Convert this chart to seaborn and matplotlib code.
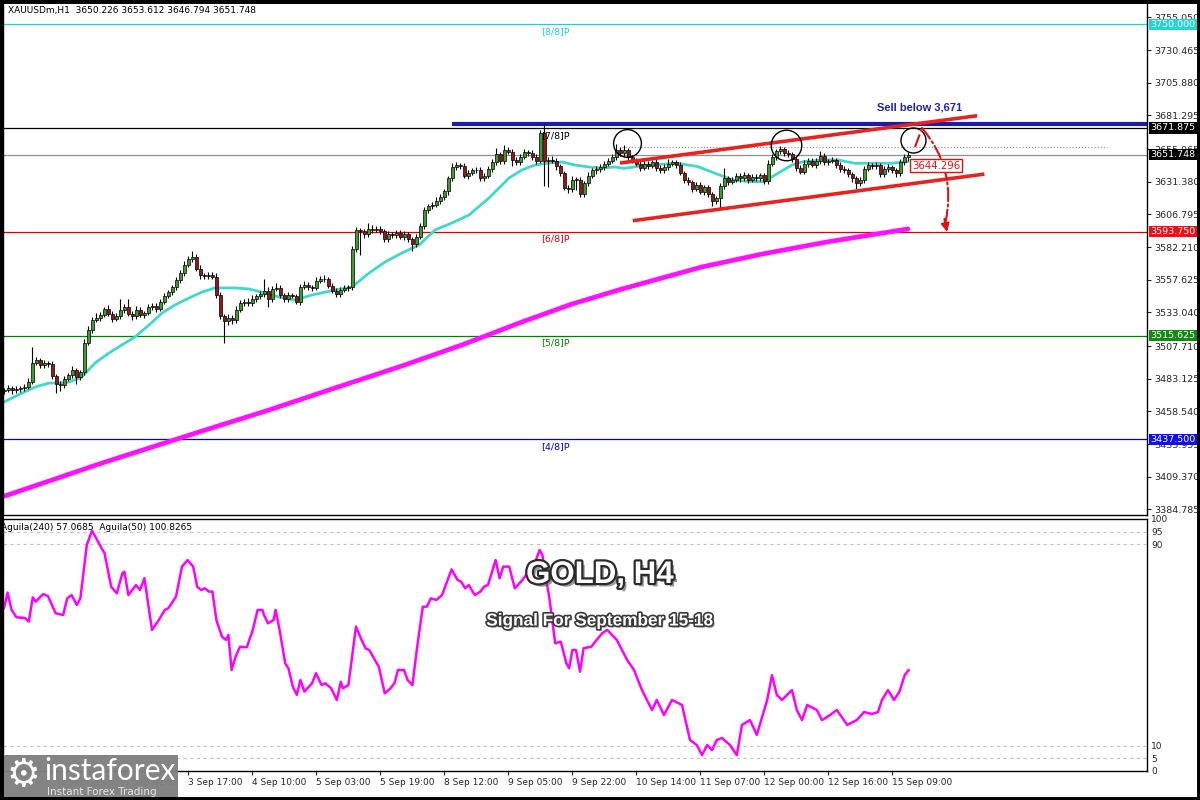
import numpy as np
import pandas as pd
import matplotlib
matplotlib.use("Agg")
import matplotlib.pyplot as plt
import matplotlib.patheffects as pe
from matplotlib.patches import Rectangle
import seaborn as sns

sns.set_style("white")
plt.rcParams['font.family'] = ['DejaVu Sans']

# ---- data (H1 bars, index 0 = first bar on screen) ----
first_open = 3474.0
closes = [
    3475.0, 3476.2, 3474.5, 3475.6, 3476.1, 3477.3, 3481.0, 3495.0, 3497.2, 3493.4,
    3495.1, 3494.0, 3485.2, 3479.3, 3478.1, 3483.0, 3486.2, 3489.4, 3484.1, 3488.3,
    3510.2, 3520.1, 3527.6, 3529.0, 3531.2, 3535.3, 3532.0, 3528.2, 3530.4, 3535.1,
    3537.0, 3532.2, 3530.1, 3535.0, 3531.3, 3532.4, 3537.2, 3538.1, 3536.0, 3541.2,
    3545.1, 3548.3, 3552.0, 3557.2, 3563.1, 3569.0, 3573.2, 3574.8, 3566.1, 3561.0,
    3560.2, 3561.4, 3560.1, 3546.2, 3530.1, 3526.3, 3529.2, 3527.0, 3535.2, 3540.1,
    3541.2, 3540.0, 3543.1, 3545.2, 3547.0, 3549.3, 3543.2, 3551.0, 3551.4, 3546.1,
    3543.2, 3546.0, 3545.3, 3541.1, 3552.2, 3554.0, 3552.1, 3551.3, 3557.0, 3558.2,
    3558.0, 3553.1, 3549.2, 3547.0, 3550.1, 3551.2, 3552.3, 3581.0, 3595.2, 3594.0,
    3592.1, 3596.0, 3595.2, 3596.1, 3594.0, 3588.2, 3592.0, 3591.1, 3593.2, 3590.0,
    3592.1, 3588.0, 3584.2, 3590.1, 3598.0, 3610.2, 3613.0, 3614.1, 3617.2, 3620.0,
    3624.1, 3634.0, 3642.2, 3644.0, 3643.1, 3636.0, 3638.2, 3640.0, 3640.3, 3634.1,
    3636.0, 3641.2, 3646.0, 3652.1, 3647.0, 3655.2, 3654.0, 3648.1, 3646.0, 3650.2,
    3654.0, 3653.1, 3650.0, 3647.2, 3668.0, 3647.1, 3648.0, 3647.2, 3643.0, 3638.1,
    3627.0, 3626.2, 3633.0, 3633.1, 3622.0, 3630.2, 3636.0, 3640.1, 3641.0, 3642.2,
    3645.0, 3647.1, 3650.0, 3655.2, 3653.0, 3655.1, 3650.0, 3647.2, 3645.0, 3642.1,
    3645.0, 3643.2, 3646.0, 3642.1, 3640.0, 3642.2, 3645.0, 3646.1, 3644.0, 3638.2,
    3633.0, 3631.1, 3626.0, 3629.2, 3624.0, 3627.1, 3622.0, 3617.2, 3619.0, 3628.1,
    3634.0, 3631.2, 3633.0, 3636.1, 3634.0, 3636.2, 3633.0, 3635.1, 3634.0, 3636.2,
    3632.0, 3645.1, 3650.0, 3654.2, 3656.0, 3653.1, 3652.0, 3648.2, 3642.0, 3639.1,
    3645.0, 3647.2, 3644.0, 3647.1, 3651.0, 3646.2, 3647.0, 3648.1, 3644.0, 3641.2,
    3640.0, 3637.1, 3634.0, 3630.2, 3633.0, 3641.1, 3644.0, 3643.2, 3644.0, 3637.1,
    3641.0, 3642.2, 3640.0, 3638.1, 3646.0, 3650.2, 3651.748]

upper_wick = [
    1.5, 2.0, 1.2, 1.8, 1.5, 2.2, 3.0, 12.0, 2.5, 1.8,
    2.0, 1.5, 2.2, 1.8, 2.5, 2.0, 1.5, 3.0, 2.2, 1.8,
    2.5, 3.0, 2.0, 3.5, 2.5, 2.0, 3.2, 1.8, 2.5, 8.0,
    2.5, 6.0, 2.0, 3.0, 2.5, 2.0, 2.5, 1.8, 2.2, 2.0,
    2.5, 2.0, 1.8, 2.2, 2.0, 2.5, 2.2, 4.5, 2.0, 2.5,
    1.5, 2.0, 1.8, 2.5, 2.0, 1.5, 3.0, 2.0, 2.5, 2.0,
    1.8, 2.5, 3.0, 2.0, 2.2, 9.0, 3.0, 2.0, 3.5, 2.0,
    1.5, 2.5, 2.0, 1.8, 2.0, 2.5, 2.0, 1.5, 3.0, 2.2,
    3.0, 2.0, 1.8, 2.5, 2.0, 2.2, 1.5, 2.0, 2.5, 1.5,
    2.0, 4.0, 2.5, 2.0, 1.8, 2.2, 2.5, 1.5, 2.0, 1.8,
    2.0, 1.5, 1.8, 2.2, 2.0, 2.5, 2.0, 1.8, 2.5, 2.0,
    2.2, 2.0, 3.5, 2.0, 1.8, 2.5, 2.0, 1.5, 2.2, 2.0,
    1.8, 2.0, 2.5, 5.0, 2.0, 4.0, 2.5, 2.0, 1.8, 2.2,
    2.0, 1.5, 2.5, 2.0, 2.5, 7.0, 2.0, 2.5, 1.8, 2.0,
    1.5, 2.0, 2.5, 2.0, 1.8, 2.0, 2.5, 1.8, 2.0, 2.2,
    2.0, 2.5, 2.0, 5.0, 2.5, 4.0, 2.0, 1.8, 2.2, 2.0,
    2.5, 1.8, 2.0, 2.2, 1.8, 2.5, 3.5, 2.0, 1.8, 2.0,
    1.5, 2.0, 1.8, 2.2, 2.0, 1.8, 2.0, 1.5, 2.0, 2.5,
    8.0, 2.0, 2.2, 1.8, 2.0, 2.5, 1.8, 2.0, 2.2, 2.0,
    1.5, 2.5, 2.2, 2.0, 2.5, 1.8, 2.0, 1.5, 2.0, 1.8,
    2.5, 2.0, 1.8, 2.2, 3.5, 2.0, 1.8, 2.0, 1.5, 2.0,
    1.8, 2.0, 1.5, 2.0, 2.2, 2.5, 2.0, 1.8, 2.0, 1.5,
    2.0, 2.2, 1.8, 2.0, 2.5, 2.2, 1.9]

lower_wick = [
    2.0, 1.5, 2.5, 1.8, 2.2, 2.0, 1.5, 2.0, 1.8, 2.5,
    2.0, 2.2, 2.5, 7.0, 4.0, 2.0, 1.8, 2.5, 5.0, 2.2,
    2.0, 1.8, 2.5, 2.0, 2.2, 1.5, 2.0, 2.5, 1.8, 2.0,
    2.2, 2.0, 2.5, 1.8, 2.0, 2.2, 1.5, 2.0, 2.5, 1.8,
    2.0, 1.5, 2.2, 1.8, 2.0, 2.5, 1.8, 2.0, 2.2, 2.5,
    2.0, 1.8, 2.2, 2.5, 2.0, 16.0, 2.5, 3.0, 2.0, 1.8,
    2.2, 2.0, 1.8, 2.5, 2.0, 2.2, 6.0, 2.0, 1.8, 2.5,
    2.0, 2.2, 1.5, 2.0, 2.5, 1.8, 2.0, 2.2, 1.5, 2.0,
    2.2, 2.0, 1.8, 2.5, 2.0, 1.5, 2.2, 2.0, 2.5, 18.0,
    3.0, 2.0, 2.5, 1.8, 2.0, 2.5, 2.0, 1.8, 2.2, 2.0,
    2.5, 2.0, 5.0, 2.2, 2.0, 1.8, 2.5, 2.0, 1.5, 2.2,
    2.0, 2.5, 2.0, 1.8, 2.2, 2.0, 2.5, 1.8, 2.0, 2.2,
    2.0, 1.8, 2.5, 2.0, 2.2, 2.0, 1.8, 5.0, 2.2, 2.0,
    1.8, 2.0, 2.2, 2.5, 2.0, 19.0, 20.0, 2.0, 2.5, 2.2,
    2.0, 3.0, 2.5, 8.0, 2.0, 2.2, 1.8, 2.0, 2.5, 2.0,
    2.2, 2.0, 1.8, 2.0, 2.5, 2.0, 2.2, 1.8, 2.0, 2.5,
    2.0, 2.2, 1.8, 2.5, 2.0, 2.2, 1.8, 2.0, 2.5, 2.0,
    2.2, 2.0, 2.5, 1.8, 2.0, 2.2, 2.0, 4.0, 2.5, 7.0,
    2.0, 2.2, 1.8, 2.0, 2.5, 2.0, 2.2, 1.8, 2.0, 2.2,
    2.5, 2.0, 1.8, 2.2, 2.0, 2.5, 2.0, 1.8, 2.2, 2.0,
    2.0, 2.2, 1.8, 2.0, 2.5, 2.0, 2.2, 1.8, 2.0, 2.5,
    2.0, 2.2, 2.5, 4.0, 2.0, 2.2, 1.8, 2.0, 2.5, 2.0,
    2.2, 2.0, 1.8, 3.0, 2.0, 2.2, 3.4]

# moving averages (bar index, price)
ma_fast = [(-0.5, 3464.9), (4.5, 3472.4), (7.75, 3476.9), (11.25, 3479.9), (13.75, 3479.9),
           (16.25, 3480.7), (19.5, 3484.5), (22.75, 3495.0), (26.25, 3502.5), (29.5, 3508.6),
           (32.75, 3514.6), (36.25, 3523.6), (39.5, 3532.6), (42.75, 3538.7), (46.25, 3543.9),
           (49.5, 3548.4), (52.75, 3551.5), (57.75, 3551.5), (61.25, 3550.7), (65.25, 3547.7),
           (68.75, 3544.7), (72.75, 3542.4), (77, 3546.2), (82.75, 3549.9), (87, 3552.2),
           (91.25, 3562.7), (95.25, 3571.0), (99.5, 3577.8), (103.75, 3583.8), (107.75, 3595.1),
           (112, 3600.4), (116.25, 3606.4), (121.25, 3619.2), (126.25, 3634.2), (129.5, 3640.3),
           (132.75, 3644.0), (136.25, 3645.5), (139.5, 3646.3), (142.75, 3644.0), (146.25, 3642.5),
           (149.5, 3641.8), (152.75, 3642.5), (155, 3641.5), (161, 3644.0), (168.25, 3645.3),
           (173.5, 3642.8), (177.75, 3637.8), (182.25, 3632.7), (186.5, 3631.5), (190, 3631.5),
           (192.75, 3636.5), (197, 3644.0), (199.75, 3646.5), (205, 3647.8), (208.5, 3647.8),
           (212.75, 3645.3), (217.25, 3645.3), (221.75, 3645.3), (226, 3646.5)]

ma_slow = [(-0.5, 3394.2), (24.5, 3419.7), (49.5, 3443.8), (66.25, 3459.6), (82.75, 3476.2),
           (99.5, 3492.8), (114.5, 3508.6), (129.5, 3525.9), (142, 3539.4), (154.5, 3550.7),
           (174.5, 3567.3), (189.5, 3577.0), (205.75, 3586.1), (226, 3595.9)]

aguila = [(0, 64.6), (0.9, 70.8), (1.9, 63.9), (3.1, 61.0), (5.25, 60.7), (6.2, 59.3), (7.2, 68.9),
          (7.9, 67.2), (9.8, 70.2), (11, 69.4), (12.9, 62.6), (14.8, 61.9), (15.8, 68.5), (16.9, 69.8),
          (18.2, 65.9), (19.1, 68.5), (20.7, 89.7), (22, 95.4), (24.4, 88.4), (25.1, 86.6), (26.8, 73.1),
          (28.2, 70.5), (29.6, 78.5), (30.1, 79.1), (31.1, 69.8), (33, 73.8), (34, 71.8), (35.1, 76.5),
          (37, 56.0), (38.7, 59.9), (40.2, 63.9), (41.1, 64.6), (43, 69.2), (44.5, 81.1), (45.9, 83.7),
          (47.3, 81.1), (48.3, 73.1), (49.3, 71.8), (50.2, 72.5), (51.2, 71.2), (52.1, 71.2), (53.1, 59.9),
          (54.5, 53.3), (55.5, 52.0), (56.1, 54.0), (56.9, 40.1), (57.9, 45.4), (59, 49.3), (60.7, 49.1),
          (62.2, 56.0), (63.4, 63.9), (64.6, 63.9), (65, 61.9), (66, 58.6), (67.4, 59.9), (67.9, 63.9),
          (68.9, 56.0), (70.3, 42.7), (71.1, 40.8), (72.2, 33.5), (73.2, 30.2), (74.1, 36.1), (75.1, 31.5),
          (77, 34.8), (78, 38.8), (79.4, 34.1), (80.3, 34.8), (81.3, 33.5), (81.8, 32.8), (83.2, 28.2),
          (84.2, 35.4), (84.7, 32.8), (86.1, 34.1), (88, 57.3), (89.4, 52.0), (90.4, 48.7), (91.3, 48.0),
          (93.7, 41.4), (95.2, 30.8), (96.6, 32.8), (97.6, 34.8), (98.5, 40.1), (100, 40.1), (100.9, 36.1),
          (102.1, 34.1), (103.3, 49.3), (104.7, 65.2), (105.7, 65.2), (106.7, 68.5), (108.1, 67.9),
          (109.5, 69.8), (111.9, 80.0), (113.4, 75.8), (114.3, 75.1), (115.3, 72.5), (116.2, 73.8),
          (117.7, 69.8), (119.1, 71.2), (120, 73.1), (121, 73.8), (122.9, 83.7), (123.9, 76.5),
          (124.8, 81.1), (126.3, 81.1), (127.7, 72.5), (129.6, 75.8), (131.5, 79.8), (133, 83.7),
          (133.9, 87.7), (134.6, 85.7), (135.4, 77.1), (136.3, 69.2), (137.8, 50.7), (139.2, 51.3),
          (140.6, 42.7), (141.3, 40.8), (142.1, 48.0), (143, 48.0), (144, 39.4), (144.9, 48.7),
          (146.8, 49.3), (147.8, 51.3), (149.5, 54.6), (150.8, 56.0), (153.2, 52.0), (155.8, 44.0),
          (157.5, 40.1), (159.5, 32.1), (162, 24.2), (163.2, 28.2), (165, 22.2), (167, 28.2),
          (169.5, 26.2), (171.5, 12.3), (173.2, 10.3), (174.5, 6.3), (175.8, 10.3), (177, 8.3),
          (178.2, 12.3), (179.5, 13.1), (181.5, 10.3), (183.2, 6.3), (184.5, 18.3), (186.5, 20.2),
          (188.2, 14.3), (190.8, 28.2), (192, 38.0), (193.2, 30.2), (194.5, 28.2), (197, 32.1),
          (198.2, 24.2), (199.5, 20.2), (200.8, 26.2), (203.2, 24.2), (204.5, 20.2), (206.5, 22.2),
          (208.2, 24.2), (210.8, 18.3), (213.2, 20.2), (215, 23.4), (217, 22.6), (218.5, 23.4),
          (219.5, 28.2), (221, 32.1), (222.5, 28.2), (223.8, 31.3), (225.2, 38.1), (226.2, 40.1)]

price_ticks = [3755.050, 3730.465, 3705.880, 3681.295, 3655.965, 3631.380, 3606.795, 3582.210,
               3557.625, 3533.040, 3507.710, 3483.125, 3458.540, 3433.955, 3409.370, 3384.785]

level_prices = [3750.000, 3671.875, 3593.750, 3515.625, 3437.500]
level_names = ["[8/8]P", "[7/8]P", "[6/8]P", "[5/8]P", "[4/8]P"]
level_colors = ["#1fd0d0", "#000000", "#e00000", "#008000", "#0000e0"]

last_price = 3651.748
sell_level = 3674.9
resistance = 3657.8
target_label = 3644.296

time_idx = [14, 30, 46, 62, 78, 94, 110, 126, 142, 158, 174, 190, 206, 222]
time_labels = ["2 Sep 08:00", "3 Sep 01:00", "3 Sep 17:00", "4 Sep 10:00", "5 Sep 03:00",
               "5 Sep 19:00", "8 Sep 12:00", "9 Sep 05:00", "9 Sep 22:00", "10 Sep 14:00",
               "11 Sep 07:00", "12 Sep 00:00", "12 Sep 16:00", "15 Sep 09:00"]

# channel lines (bar index, price)
channel_top = [(154.0, 3645.5), (243.3, 3681.1)]
channel_bot = [(157.2, 3602.1), (245.1, 3637.2)]
circles = [(155.7, 3660.3, 20), (195.6, 3659.1, 22), (227.3, 3662.8, 18)]

# ---- build the frame ----
df = pd.DataFrame({'close': closes})
df['idx'] = np.arange(len(df))
df['open'] = [first_open] + closes[:-1]
body_top = df[['open', 'close']].max(axis=1)
body_bot = df[['open', 'close']].min(axis=1)
df['high'] = body_top + np.array(upper_wick)
df['low'] = body_bot - np.array(lower_wick)

fast = pd.DataFrame(ma_fast, columns=['idx', 'price'])
slow = pd.DataFrame(ma_slow, columns=['idx', 'price'])
agu = pd.DataFrame(aguila, columns=['idx', 'value'])

fig = plt.figure(figsize=(12, 8), dpi=100)
ax = fig.add_axes([3/1200, 1 - 515/800, 1144/1200, 513/800])
ax2 = fig.add_axes([3/1200, 1 - 771/800, 1144/1200, 252/800])

XMIN, XMAX = -0.25, 285.75

# ---- price panel ----
for p, c in zip(level_prices, level_colors):
    ax.axhline(p, color=c, lw=0.9, zorder=1)
ax.axhline(last_price, color='#909090', lw=0.9, zorder=1)
ax.hlines(sell_level, 112, XMAX, color='#1c1ca8', lw=3, zorder=2)
ax.hlines(resistance, 154.5, 275.75, color='#9a9a9a', lw=0.9, ls=(0, (1, 1.5)), zorder=1)

sns.lineplot(data=slow, x='idx', y='price', ax=ax, color='#ff10ff', lw=3.4, zorder=2)
sns.lineplot(data=fast, x='idx', y='price', ax=ax, color='#40d8cc', lw=2, zorder=2)

up = df['close'] >= df['open']
ax.vlines(df['idx'], df['low'], df['high'], color='black', lw=0.8, zorder=3)
ax.bar(df['idx'], (body_top - body_bot).clip(lower=0.35), bottom=body_bot, width=0.75,
       color=np.where(up, '#3f9b2b', '#8e1b1b'), edgecolor='black', linewidth=0.5, zorder=4)

for (x0, y0), (x1, y1) in [channel_top, channel_bot]:
    ax.plot([x0, x1], [y0, y1], color='#e8231f', lw=2.6, zorder=5, solid_capstyle='butt')

for cx, cy, size in circles:
    ax.plot(cx, cy, 'o', ms=size, mfc='none', mec='black', mew=1, zorder=6)

# dash-dot arrow down to the 6/8 level
ax.plot([227.75, 229.5], [3657.6, 3671.9], color='#e01010', lw=1.5, ls='-.', zorder=6)
ax.annotate('', xy=(235.3, 3600.0), xytext=(229.5, 3671.9),
            arrowprops=dict(arrowstyle='-', color='#e01010', lw=1.5, ls='-.',
                            connectionstyle='arc3,rad=-0.25', shrinkA=0, shrinkB=0), zorder=6)
ax.annotate('', xy=(235.75, 3593.6), xytext=(235.1, 3603.5),
            arrowprops=dict(arrowstyle='-|>', color='#e01010', lw=1.5, mutation_scale=12,
                            shrinkA=0, shrinkB=0), zorder=6)

ax.plot([226.5, 228], [3643.5, 3643.5], color='#e01010', lw=1, zorder=6)
ax.text(233.0, 3643.3, f"{target_label:.3f}", color='#e01010', fontsize=7.3, ha='center', va='center',
        bbox=dict(boxstyle='square,pad=0.15', fc='white', ec='#e01010', lw=1), zorder=7)

ax.text(229, 3687.0, "Sell below 3,671", color='#2323a8', fontsize=8, fontweight='bold',
        family='Liberation Sans', ha='center', va='center', zorder=7)

for p, name, c in zip(level_prices, level_names, level_colors):
    ax.text(137.75, p - 5.5, name, color=c, fontsize=6.8, ha='center', va='center', zorder=7)

ax.text(0.0045, 0.984, "XAUUSDm,H1  3650.226 3653.612 3646.794 3651.748", transform=ax.transAxes,
        fontsize=6.5, ha='left', va='center', color='black')

ax.set_xlim(XMIN, XMAX)
ax.set_ylim(3380.6, 3766.7)
ax.set_xticks([])
ax.yaxis.tick_right()
ax.set_yticks(price_ticks)
ax.set_yticklabels([f"{t:.3f}" for t in price_ticks])
ax.tick_params(axis='y', labelsize=6.8, length=3, width=0.8, pad=2, direction='out', right=True)
ax.set_xlabel("")
ax.set_ylabel("")

ytr = ax.get_yaxis_transform()
box_prices = level_prices + [last_price]
box_colors = ["#22d6d6", "#000000", "#ee1111", "#118a11", "#1010ee", "#000000"]
for p, c in zip(box_prices, box_colors):
    ax.text(1.003, p, f"{p:.3f}", transform=ytr, color='white', fontsize=6.8, ha='left', va='center',
            bbox=dict(boxstyle='square,pad=0.12', fc=c, ec='none'), zorder=8, clip_on=False)

for s in ax.spines.values():
    s.set_color('black')
    s.set_linewidth(1)

# ---- indicator panel ----
for lvl in [95, 90, 10, 5]:
    ax2.axhline(lvl, color='#c4c4c4', lw=0.8, ls=(0, (3, 3)), zorder=1)
sns.lineplot(data=agu, x='idx', y='value', ax=ax2, color='#ff00ff', lw=1.8, zorder=3)

ax2.set_xlim(XMIN, XMAX)
ax2.set_ylim(0, 100)
ax2.yaxis.tick_right()
ax2.set_yticks([100, 95, 90, 10, 5, 0])
ax2.set_yticklabels(["100", "95", "90", "10", "5", "0"])
ax2.tick_params(axis='y', labelsize=6.5, length=0, pad=3)
ax2.set_xticks(time_idx)
ax2.set_xticklabels(time_labels, ha='left')
ax2.tick_params(axis='x', labelsize=6.5, length=3, width=0.8, pad=2, direction='out', bottom=True)
ax2.set_xlabel("")
ax2.set_ylabel("")
for s in ax2.spines.values():
    s.set_color('black')
    s.set_linewidth(1)

ax2.text(-0.002, 0.968, "Aguila(240) 57.0685  Aguila(50) 100.8265", transform=ax2.transAxes,
         fontsize=6.5, ha='left', va='center', color='black')

# ---- overlay titles ----
title_fx = [pe.SimplePatchShadow(offset=(2.5, -2.5), shadow_rgbFace='#555555', alpha=0.6),
            pe.Stroke(linewidth=3.2, foreground='#2a2a2a'), pe.Normal()]
fig.text(0.5, 1 - 575/800, "GOLD, H4", color='white', fontsize=22.5, fontweight='bold',
         family='Liberation Sans', ha='center', va='center', path_effects=title_fx)
sub_fx = [pe.SimplePatchShadow(offset=(1.5, -1.5), shadow_rgbFace='#555555', alpha=0.6),
          pe.Stroke(linewidth=2.4, foreground='#3a3a3a'), pe.Normal()]
fig.text(0.5, 1 - 621/800, "Signal For September 15-18", color='white', fontsize=12.4,
         fontweight='bold', family='Liberation Sans', ha='center', va='center', path_effects=sub_fx)

# ---- logo ----
fig.patches.append(Rectangle((0, 0), 178/1200, 45/800, transform=fig.transFigure,
                             facecolor='#808080', edgecolor='none', alpha=0.97, zorder=10))
fig.text(23/1200, 1 - 776/800, "\u2699", color='white', fontsize=27, ha='center', va='center', zorder=11)
fig.text(44/1200, 1 - 771/800, "instaforex", color='white', fontsize=21.5, family='Lato',
         ha='left', va='center', zorder=11)
fig.text(47/1200, 1 - 792/800, "Instant Forex Trading", color='#e6e6e6', fontsize=7.5,
         ha='left', va='center', zorder=11)

fig.patches.append(Rectangle((0, 0), 1, 1, transform=fig.transFigure, fill=False,
                             edgecolor='black', lw=5, zorder=12))

fig.savefig("out.png", dpi=100, facecolor='white')
